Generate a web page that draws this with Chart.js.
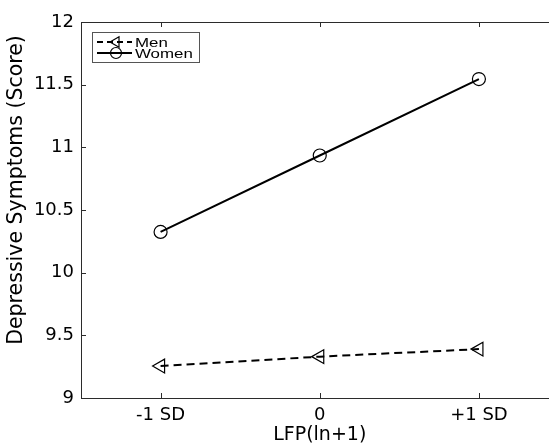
<!DOCTYPE html>
<html>
<head>
<meta charset="utf-8">
<script src="https://cdn.jsdelivr.net/npm/chart.js@4/dist/chart.umd.min.js"></script>
<style>
  html, body { margin: 0; padding: 0; background: #fff; overflow: hidden; }
  #wrap { width: 549px; height: 446px; overflow: hidden; }
  canvas { display: block; }
</style>
</head>
<body>
<!-- the axes box runs past the right edge of the picture, so the canvas is wider and clipped -->
<div id="wrap"><canvas id="myChart" width="570" height="446"></canvas></div>
<script>
// data
const xPositions = [-1, 0, 1];
const xTickLabels = ['-1 SD', '0', '+1 SD'];
const menValues = [9.255, 9.33, 9.39];
const womenValues = [10.325, 10.935, 11.545];
const yTicks = [9, 9.5, 10, 10.5, 11, 11.5, 12];

const FONT = "'DejaVu Sans', Verdana, sans-serif";
const LEGEND_FONT = "'Liberation Sans', Arial, Helvetica, sans-serif";
const AXIS = '#2b2b2b';

// MATLAB-like box: top border, inward ticks, y title and the legend box
const boxPlugin = {
    id: 'box',
    afterDraw(chart) {
        const ctx = chart.ctx;
        const a = chart.chartArea;
        const xs = chart.scales.x;
        const ys = chart.scales.y;
        ctx.save();
        ctx.strokeStyle = AXIS;
        ctx.lineWidth = 1;
        ctx.beginPath();
        ctx.moveTo(a.left, a.top + 0.5);
        ctx.lineTo(a.right, a.top + 0.5);
        xPositions.forEach(function(v) {
            const px = Math.round(xs.getPixelForValue(v)) + 0.5;
            ctx.moveTo(px, a.bottom);
            ctx.lineTo(px, a.bottom - 5);
            ctx.moveTo(px, a.top);
            ctx.lineTo(px, a.top + 5);
        });
        yTicks.forEach(function(v) {
            const py = Math.round(ys.getPixelForValue(v)) + 0.5;
            ctx.moveTo(a.left, py);
            ctx.lineTo(a.left + 5, py);
        });
        ctx.stroke();

        // y axis title
        ctx.save();
        ctx.translate(17, 190);
        ctx.rotate(-Math.PI / 2);
        ctx.fillStyle = '#000';
        ctx.font = '20.5px ' + FONT;
        ctx.textAlign = 'center';
        ctx.textBaseline = 'middle';
        ctx.fillText('Depressive Symptoms (Score)', 0, 0);
        ctx.restore();

        // legend
        const lx = 92, ly = 32, lw = 107, lh = 30;
        ctx.fillStyle = '#fff';
        ctx.fillRect(lx, ly, lw, lh);
        ctx.strokeStyle = '#555';
        ctx.strokeRect(lx + 0.5, ly + 0.5, lw, lh);
        chart.data.datasets.forEach(function(ds, i) {
            const cy = ly + 10 + i * 11;
            ctx.strokeStyle = ds.borderColor;
            ctx.lineWidth = 2;
            ctx.setLineDash(ds.borderDash ? [6, 4] : []);
            ctx.beginPath();
            ctx.moveTo(lx + 5, cy);
            ctx.lineTo(lx + 40, cy);
            ctx.stroke();
            ctx.setLineDash([]);
            ctx.lineWidth = 1.2;
            ctx.fillStyle = 'rgba(0,0,0,0)';
            Chart.helpers.drawPoint(ctx, {
                pointStyle: ds.pointStyle,
                rotation: ds.pointRotation || 0,
                radius: ds.legendRadius,
                borderWidth: 1.2
            }, lx + 24, cy);
            ctx.save();
            ctx.translate(lx + 43, cy + 1);
            ctx.scale(1.25, 1);
            ctx.fillStyle = '#000';
            ctx.font = '13.5px ' + LEGEND_FONT;
            ctx.textBaseline = 'middle';
            ctx.textAlign = 'left';
            ctx.fillText(ds.label, 0, 0);
            ctx.restore();
        });
        ctx.restore();
    }
};

const ctx = document.getElementById('myChart');
const myChart = new Chart(ctx, {
    type: 'line',
    data: {
        datasets: [{
            label: 'Men',
            data: xPositions.map((x, i) => ({ x: x, y: menValues[i] })),
            borderColor: '#000',
            borderWidth: 2,
            borderDash: [8, 5],
            pointStyle: 'triangle',
            pointRotation: -90,
            pointRadius: 8,
            legendRadius: 6,
            pointBorderWidth: 1.2,
            pointBackgroundColor: 'rgba(0,0,0,0)',
            pointBorderColor: '#000',
            fill: false
        }, {
            label: 'Women',
            data: xPositions.map((x, i) => ({ x: x, y: womenValues[i] })),
            borderColor: '#000',
            borderWidth: 2,
            pointStyle: 'circle',
            pointRadius: 6.5,
            legendRadius: 5.5,
            pointBorderWidth: 1.2,
            pointBackgroundColor: 'rgba(0,0,0,0)',
            pointBorderColor: '#000',
            fill: false
        }]
    },
    options: {
        responsive: false,
        animation: false,
        layout: { padding: { top: 22, right: 11.5, left: 0, bottom: 0 } },
        plugins: {
            legend: { display: false },
            tooltip: { enabled: false }
        },
        scales: {
            x: {
                type: 'linear',
                min: -1.5,
                max: 1.5,
                afterBuildTicks: function(scale) {
                    scale.ticks = xPositions.map(v => ({ value: v }));
                },
                afterFit: function(scale) { scale.height = 48; },
                grid: { display: false, drawTicks: false },
                border: { display: true, color: AXIS, width: 1 },
                ticks: {
                    color: '#000',
                    padding: 7,
                    font: { family: FONT, size: 18 },
                    callback: function(v) {
                        const i = xPositions.indexOf(v);
                        return i >= 0 ? xTickLabels[i] : '';
                    }
                },
                title: {
                    display: true,
                    text: 'LFP(ln+1)',
                    color: '#000',
                    font: { family: FONT, size: 19 },
                    padding: { top: -3, bottom: 0 }
                }
            },
            y: {
                min: 9,
                max: 12,
                afterBuildTicks: function(scale) {
                    scale.ticks = yTicks.map(v => ({ value: v }));
                },
                afterFit: function(scale) { scale.width = 81; },
                grid: { display: false, drawTicks: false },
                border: { display: true, color: AXIS, width: 1 },
                ticks: {
                    color: '#000',
                    padding: 7,
                    font: { family: FONT, size: 18 },
                    callback: function(v) { return String(v); }
                }
            }
        }
    },
    plugins: [boxPlugin]
});
</script>
</body>
</html>
